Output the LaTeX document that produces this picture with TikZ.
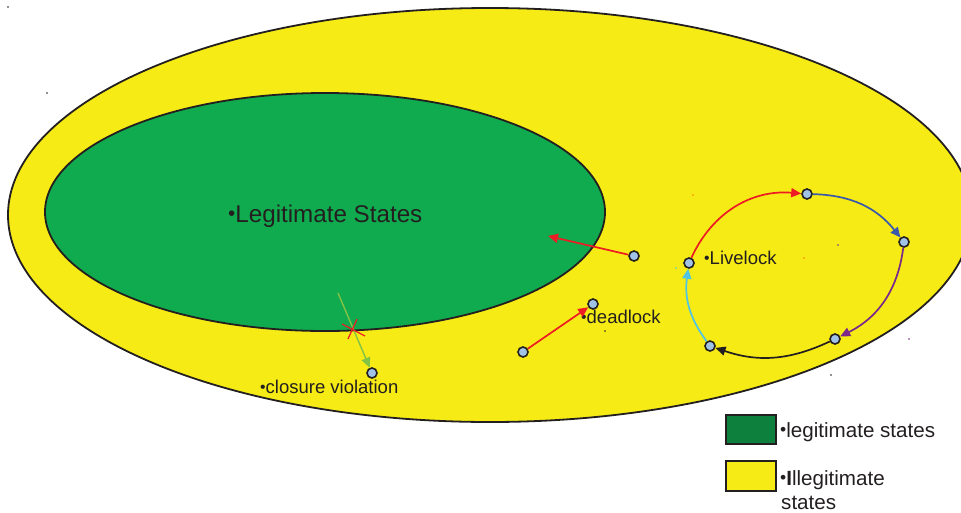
\documentclass[tikz,border=0pt]{standalone}
\usepackage{fontspec}
\setmainfont{Liberation Sans}
\usetikzlibrary{arrows.meta,calc}

\definecolor{illegal}{RGB}{246,235,20}
\definecolor{legal}{RGB}{16,171,78}
\definecolor{legaldark}{RGB}{14,128,62}
\definecolor{ink}{RGB}{35,31,32}
\definecolor{statefill}{RGB}{160,195,230}
\definecolor{arrred}{RGB}{237,28,36}
\definecolor{arrblue}{RGB}{59,89,170}
\definecolor{arrpurple}{RGB}{123,40,138}
\definecolor{arrcyan}{RGB}{80,196,230}
\definecolor{arrgreen}{RGB}{130,195,70}

% small bullet placed before every label
\newcommand{\bdot}{\raisebox{0.05em}{\scalebox{0.85}{•}}}

\begin{document}
\begin{tikzpicture}[x=1pt,y=-1pt,
  state/.style={circle,minimum size=10pt,inner sep=0pt,fill=statefill,draw=ink,line width=1.6pt},
  trans/.style={-{Triangle[length=10pt,width=9pt]},line width=1.7pt},
  lbl/.style={anchor=base west,inner sep=0pt,text=ink,font=\fontsize{18.5}{20}\selectfont},
  legtext/.style={anchor=base west,inner sep=0pt,text=ink,font=\fontsize{20.6}{22}\selectfont}]
\useasboundingbox (0,0) rectangle (961,512);

% state spaces
\draw[fill=illegal,draw=ink,line width=1.8pt] (490,215) ellipse [x radius=482,y radius=207];
\draw[fill=legal,draw=ink,line width=1.8pt] (325,212) ellipse [x radius=280,y radius=119];

% stray specks
\foreach \p/\c in {{(8,7)}/ink,{(47,93)}/ink,{(693,195)}/orange,{(838,245)}/arrpurple,
                   {(804,258)}/orange,{(909,339)}/arrpurple,{(676,268)}/arrcyan,
                   {(605,331)}/ink,{(831,375)}/ink}
  \fill[\c] \p circle (0.8);

% labels
\node[lbl,font=\fontsize{24.2}{26}\selectfont] (legit) at (228,222) {\bdot Legitimate States};
\node[lbl] (dlbl) at (581,323) {\bdot deadlock};
\node[lbl] (llbl) at (704,264) {\bdot Livelock};
\node[lbl] (clbl) at (260,393) {\bdot closure violation};

% states
\node[state] (r0) at (634,256) {};
\coordinate (r1) at (548,236);
\node[state] (d0) at (523,352) {};
\node[state] (d1) at (593,304) {};
\coordinate (c0) at (338,293);
\node[state] (c1) at (372,373) {};
\node[state] (l1) at (689,263) {};
\node[state] (l2) at (807,194) {};
\node[state] (l3) at (904,242) {};
\node[state] (l4) at (835,339) {};
\node[state] (l5) at (710,346) {};

% convergence and deadlock
\draw[trans,arrred] (r0) -- (r1);
\draw[trans,arrred] (d0) -- (d1);

% closure violation, crossed out
\draw[trans,arrgreen,line width=1.4pt] (c0) -- (c1);
\coordinate (x0) at (352,329);
\draw[arrred,line width=1.2pt] ($(x0)+(-10,-5)$) -- ($(x0)+(13,7)$);
\draw[arrred,line width=1.2pt] ($(x0)+(5,-10)$) -- ($(x0)+(-4,10)$);

% livelock cycle
\draw[trans,arrred] (l1) to[bend left=35] (l2);
\draw[trans,arrblue] (l2) to[bend left=25] (l3);
\draw[trans,arrpurple] (l3) to[bend left=28] (l4);
\draw[trans,ink] (l4) to[bend left=22] (l5);
\draw[trans,arrcyan] (l5) to[bend left=22] (l1);

% legend
\node[draw=ink,line width=1.6pt,fill=legaldark,minimum width=50pt,minimum height=29pt,inner sep=0pt,anchor=north west] (kg) at (725,414) {};
\node[draw=ink,line width=1.6pt,fill=illegal,minimum width=50pt,minimum height=30pt,inner sep=0pt,anchor=north west] (ky) at (725,460) {};
\node[legtext] (kgt) at (780,437) {\bdot legitimate states};
\node[legtext] (kyt) at (780,485) {\bdot\textbf{I}llegitimate};
\node[legtext] (kyt2) at (781,509) {states};
\end{tikzpicture}
\end{document}
